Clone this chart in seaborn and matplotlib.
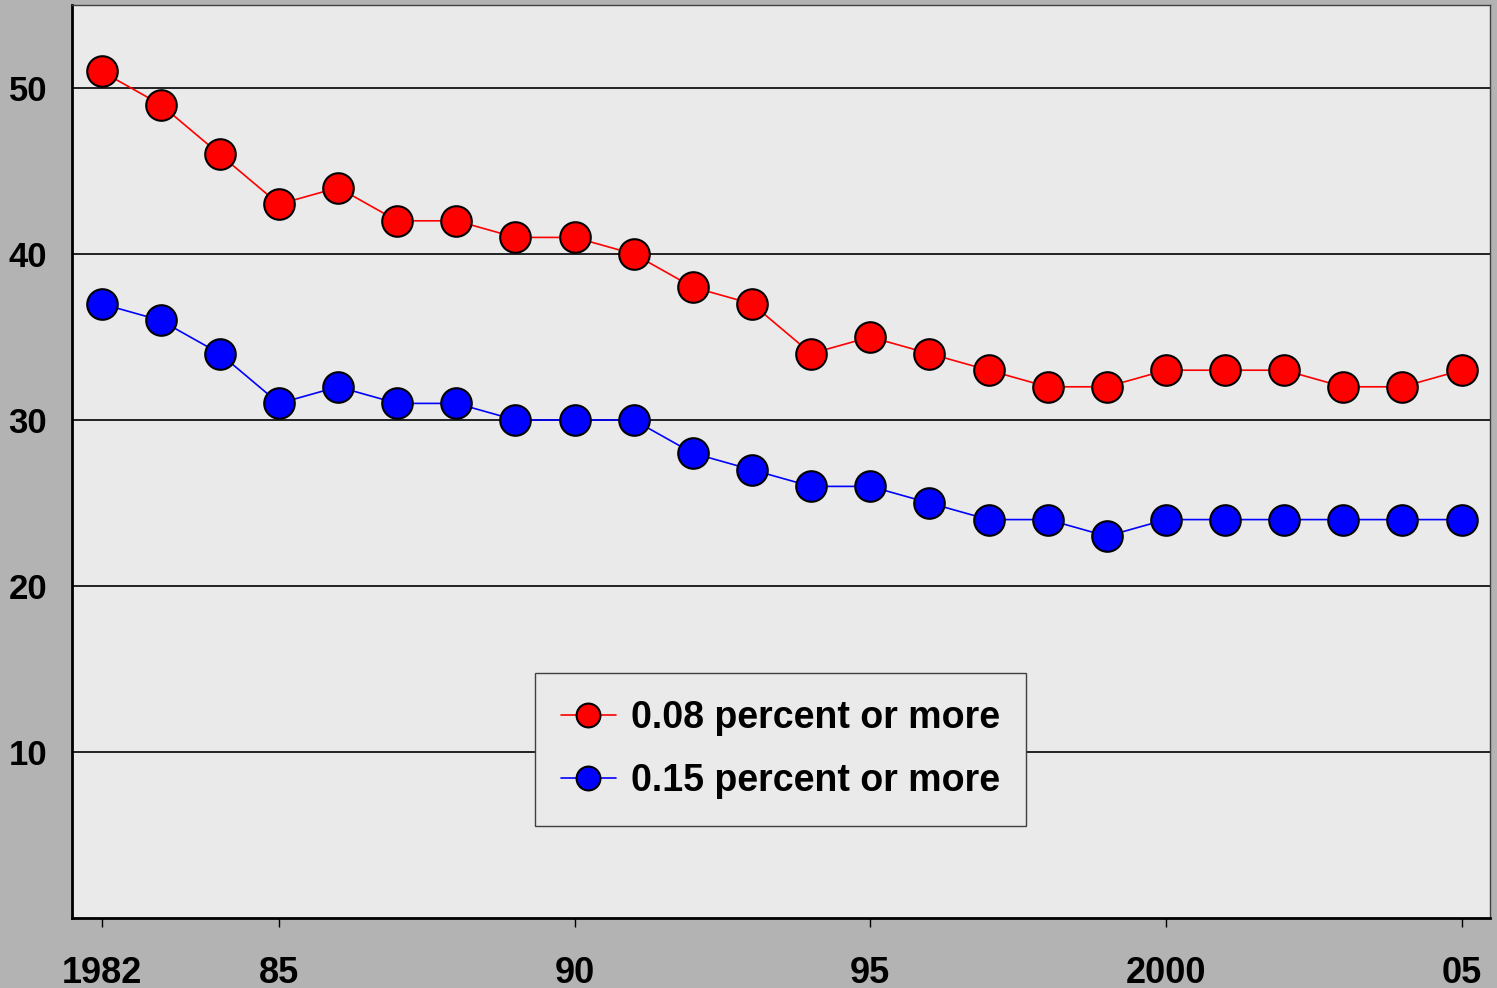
import pandas as pd
import numpy as np
import seaborn as sns
import matplotlib.pyplot as plt

years = list(range(1982, 2006))
bac_08 = [51, 49, 46, 43, 44, 42, 42, 41, 41, 40, 38, 37, 34, 35, 34, 33, 32, 32, 33, 33, 33, 32, 32, 33]
bac_15 = [37, 36, 34, 31, 32, 31, 31, 30, 30, 30, 28, 27, 26, 26, 25, 24, 24, 23, 24, 24, 24, 24, 24, 24]
series_names = ["0.08 percent or more", "0.15 percent or more"]
xtick_pos = [1982, 1985, 1990, 1995, 2000, 2005]
xtick_labels = ["1982", "85", "90", "95", "2000", "05"]
ytick_pos = [10, 20, 30, 40, 50]

df = pd.DataFrame({"year": years * 2,
                   "pct": bac_08 + bac_15,
                   "series": [series_names[0]] * len(years) + [series_names[1]] * len(years)})

sns.set_theme(style="white")
plt.rcParams['font.family'] = ['Liberation Sans', 'DejaVu Sans']
plt.rcParams['font.weight'] = 'bold'
plt.rcParams['text.color'] = 'black'
plt.rcParams['xtick.labelcolor'] = 'black'
plt.rcParams['ytick.labelcolor'] = 'black'

fig = plt.figure(figsize=(14.97, 9.88), dpi=100, facecolor="#b3b3b3")
ax = fig.add_axes([0.0481, 0.0709, 0.9472, 0.924])
ax.set_facecolor("#eaeaea")

ax.grid(False)
for y in ytick_pos:
    ax.axhline(y, color="black", lw=1.2, zorder=1)

sns.lineplot(data=df, x="year", y="pct", hue="series", palette=["#ff0000", "#0000ff"],
             marker="o", markersize=22, markeredgecolor="black", markeredgewidth=1.5,
             linewidth=1.2, ax=ax, zorder=3)

ax.set_xlim(1981.5, 2005.48)
ax.set_ylim(0, 55)
ax.set_xticks(xtick_pos)
ax.set_xticklabels(xtick_labels)
ax.set_yticks(ytick_pos)
ax.set_xlabel("")
ax.set_ylabel("")
ax.tick_params(axis="x", length=6.5, width=1, color="black", pad=21, labelsize=26,
               labelcolor="black", direction="out", bottom=True)
ax.tick_params(axis="y", length=0, pad=18, labelsize=25, labelcolor="black")
for lab in ax.get_xticklabels() + ax.get_yticklabels():
    lab.set_fontweight("bold")

for side in ["left", "bottom"]:
    ax.spines[side].set_color("black")
    ax.spines[side].set_linewidth(2)
for side in ["top", "right"]:
    ax.spines[side].set_color("#404040")
    ax.spines[side].set_linewidth(1)

leg = ax.legend(loc="upper left", bbox_to_anchor=(0.3265, 0.2678), frameon=True, fancybox=False,
                prop={"size": 27, "weight": "bold"}, markerscale=0.78, handlelength=1.45,
                borderpad=0.7, borderaxespad=0, labelspacing=0.74, handletextpad=0.4)
leg.get_frame().set_facecolor("#eaeaea")
leg.get_frame().set_edgecolor("#404040")
leg.get_frame().set_linewidth(1)
leg.get_frame().set_alpha(1)
for t in leg.get_texts():
    t.set_color("black")

fig.savefig("out.png", dpi=100, facecolor=fig.get_facecolor())
